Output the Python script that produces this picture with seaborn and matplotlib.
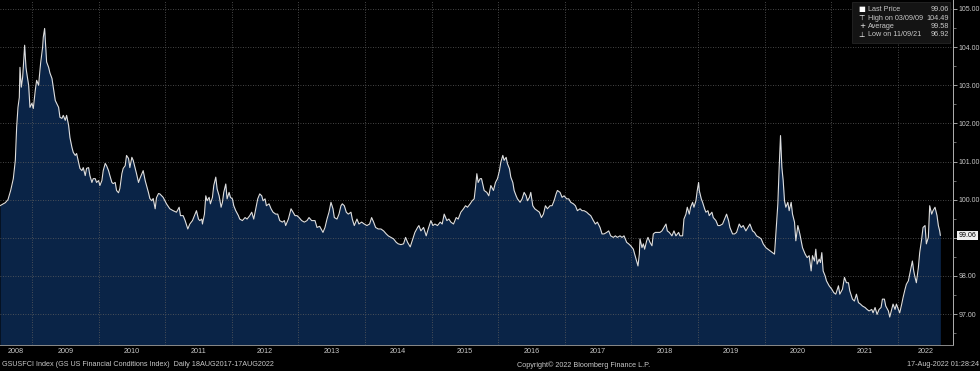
import pandas as pd
import seaborn as sns
from matplotlib import pyplot as plt
from matplotlib import transforms
from matplotlib.patches import Rectangle
from matplotlib.ticker import FixedLocator, MultipleLocator

# GS US Financial Conditions Index, (decimal year, index level)
seg_2008_2010 = [
    (2008.52, 99.84), (2008.60, 99.92), (2008.64, 100.0), (2008.68, 100.24), (2008.72, 100.55),
    (2008.75, 101.03), (2008.77, 101.9), (2008.79, 102.42), (2008.81, 102.68), (2008.82, 103.47),
    (2008.84, 102.95), (2008.86, 103.21), (2008.87, 103.47), (2008.89, 104.05), (2008.91, 103.47),
    (2008.92, 103.34), (2008.95, 103.0), (2008.97, 102.42), (2009.00, 102.53), (2009.02, 102.39),
    (2009.05, 102.87), (2009.07, 103.13), (2009.10, 103.0), (2009.11, 103.21), (2009.13, 103.58),
    (2009.16, 104.0), (2009.17, 104.26), (2009.19, 104.49), (2009.21, 103.92), (2009.22, 103.61),
    (2009.25, 103.47), (2009.27, 103.32), (2009.30, 103.18), (2009.32, 102.95), (2009.35, 102.6),
    (2009.37, 102.53), (2009.40, 102.42), (2009.42, 102.16), (2009.45, 102.13), (2009.47, 102.21),
    (2009.50, 102.08), (2009.52, 102.21), (2009.55, 101.95), (2009.57, 101.63), (2009.60, 101.37),
    (2009.62, 101.24), (2009.65, 101.16), (2009.67, 101.21), (2009.70, 100.97), (2009.72, 100.82),
    (2009.75, 100.76), (2009.77, 100.84), (2009.80, 100.63), (2009.82, 100.82), (2009.85, 100.84),
    (2009.87, 100.63), (2009.90, 100.45), (2009.92, 100.55), (2009.95, 100.55), (2009.97, 100.45),
    (2010.00, 100.5), (2010.02, 100.37), (2010.05, 100.5), (2010.07, 100.76), (2010.10, 100.95),
    (2010.12, 100.89), (2010.15, 100.76), (2010.17, 100.63), (2010.20, 100.45), (2010.22, 100.42),
    (2010.25, 100.45), (2010.27, 100.24), (2010.30, 100.18), (2010.32, 100.29), (2010.35, 100.68),
    (2010.37, 100.82), (2010.40, 100.89), (2010.42, 101.16), (2010.45, 101.08), (2010.47, 100.84),
    (2010.50, 101.11), (2010.52, 101.03), (2010.55, 100.82), (2010.57, 100.68), (2010.60, 100.45),
    (2010.62, 100.55), (2010.65, 100.68), (2010.67, 100.76), (2010.70, 100.5), (2010.72, 100.37),
    (2010.75, 100.18), (2010.77, 100.03), (2010.80, 99.97), (2010.82, 100.03), (2010.85, 99.76),
    (2010.87, 100.05), (2010.90, 100.16), (2010.92, 100.15),
]
seg_2011_2013 = [
    (2010.97, 100.06), (2011.02, 99.89), (2011.07, 99.76), (2011.12, 99.71), (2011.17, 99.67),
    (2011.21, 99.8), (2011.23, 99.58), (2011.27, 99.58), (2011.30, 99.45), (2011.34, 99.23),
    (2011.37, 99.36), (2011.41, 99.45), (2011.45, 99.62), (2011.47, 99.71), (2011.50, 99.49),
    (2011.52, 99.45), (2011.55, 99.49), (2011.56, 99.36), (2011.59, 99.62), (2011.61, 100.1),
    (2011.63, 99.97), (2011.66, 100.06), (2011.68, 99.89), (2011.71, 100.06), (2011.73, 100.37),
    (2011.76, 100.59), (2011.78, 100.28), (2011.81, 100.1), (2011.84, 99.8), (2011.86, 99.93),
    (2011.88, 100.19), (2011.91, 100.41), (2011.93, 100.02), (2011.96, 100.19), (2011.98, 100.06),
    (2012.01, 100.02), (2012.03, 99.84), (2012.06, 99.71), (2012.10, 99.58), (2012.12, 99.49),
    (2012.16, 99.45), (2012.20, 99.53), (2012.23, 99.49), (2012.27, 99.58), (2012.30, 99.67),
    (2012.33, 99.49), (2012.36, 99.76), (2012.39, 100.02), (2012.42, 100.15), (2012.45, 100.1),
    (2012.47, 99.97), (2012.50, 100.02), (2012.52, 99.84), (2012.56, 99.89), (2012.59, 99.76),
    (2012.62, 99.67), (2012.66, 99.62), (2012.69, 99.62), (2012.72, 99.45), (2012.76, 99.41),
    (2012.79, 99.45), (2012.81, 99.32), (2012.85, 99.49), (2012.89, 99.76), (2012.92, 99.67),
    (2012.95, 99.58), (2012.98, 99.58), (2013.01, 99.53), (2013.05, 99.45), (2013.09, 99.41),
    (2013.13, 99.45), (2013.16, 99.53), (2013.20, 99.45), (2013.25, 99.45), (2013.28, 99.27),
    (2013.32, 99.3),
]
seg_2013_2015 = [
    (2013.37, 99.14), (2013.40, 99.27), (2013.43, 99.49), (2013.46, 99.67), (2013.49, 99.93),
    (2013.52, 99.76), (2013.54, 99.53), (2013.58, 99.49), (2013.61, 99.62), (2013.64, 99.84),
    (2013.66, 99.89), (2013.69, 99.84), (2013.72, 99.67), (2013.75, 99.62), (2013.79, 99.67),
    (2013.81, 99.49), (2013.84, 99.32), (2013.88, 99.49), (2013.91, 99.36), (2013.95, 99.41),
    (2013.99, 99.36), (2014.03, 99.32), (2014.07, 99.36), (2014.10, 99.53), (2014.13, 99.41),
    (2014.16, 99.27), (2014.20, 99.23), (2014.24, 99.23), (2014.28, 99.18), (2014.32, 99.1),
    (2014.35, 99.05), (2014.39, 99.01), (2014.43, 98.97), (2014.47, 98.88), (2014.50, 98.84),
    (2014.54, 98.82), (2014.58, 98.84), (2014.61, 99.01), (2014.64, 98.88), (2014.68, 98.76),
    (2014.71, 98.92), (2014.75, 99.14), (2014.79, 99.27), (2014.81, 99.32), (2014.84, 99.18),
    (2014.88, 99.27), (2014.92, 99.05), (2014.95, 99.23), (2014.99, 99.45), (2015.02, 99.32),
    (2015.05, 99.36), (2015.09, 99.32), (2015.13, 99.41), (2015.16, 99.36), (2015.19, 99.62),
    (2015.23, 99.45), (2015.26, 99.49), (2015.29, 99.41), (2015.33, 99.36), (2015.37, 99.53),
    (2015.40, 99.49), (2015.44, 99.67), (2015.48, 99.76), (2015.51, 99.84), (2015.54, 99.8),
    (2015.58, 99.89), (2015.61, 99.97), (2015.64, 100.02), (2015.66, 100.32), (2015.68, 100.68),
    (2015.70, 100.45), (2015.73, 100.55),
]
seg_2015_2018 = [
    (2015.75, 100.55), (2015.79, 100.24), (2015.83, 100.19), (2015.86, 100.1), (2015.89, 100.37),
    (2015.93, 100.24), (2015.96, 100.45), (2015.99, 100.55), (2016.02, 100.76), (2016.04, 100.98),
    (2016.07, 101.16), (2016.09, 101.03), (2016.12, 101.11), (2016.14, 100.94), (2016.17, 100.81),
    (2016.19, 100.59), (2016.22, 100.45), (2016.24, 100.24), (2016.27, 100.1), (2016.29, 100.02),
    (2016.33, 99.93), (2016.36, 100.02), (2016.39, 100.19), (2016.42, 100.1), (2016.44, 99.97),
    (2016.47, 100.06), (2016.49, 100.19), (2016.52, 99.84), (2016.55, 99.76), (2016.59, 99.71),
    (2016.62, 99.67), (2016.65, 99.53), (2016.68, 99.62), (2016.71, 99.84), (2016.74, 99.76),
    (2016.78, 99.84), (2016.81, 99.84), (2016.84, 99.97), (2016.87, 100.15), (2016.89, 100.24),
    (2016.93, 100.19), (2016.96, 100.06), (2016.99, 100.1), (2017.03, 100.02), (2017.06, 100.02),
    (2017.09, 99.93), (2017.13, 99.89), (2017.16, 99.84), (2017.19, 99.71), (2017.23, 99.76),
    (2017.26, 99.71), (2017.29, 99.71), (2017.33, 99.67), (2017.36, 99.62), (2017.39, 99.58),
    (2017.43, 99.45), (2017.46, 99.36), (2017.49, 99.41), (2017.53, 99.27), (2017.56, 99.1),
    (2017.59, 99.1), (2017.63, 99.14), (2017.66, 99.18), (2017.69, 99.05), (2017.73, 99.01),
    (2017.76, 99.05), (2017.79, 99.01), (2017.83, 99.05), (2017.86, 99.01), (2017.89, 99.05),
    (2017.93, 98.88), (2017.96, 98.84), (2017.99, 98.79), (2018.03, 98.7), (2018.05, 98.57),
    (2018.08, 98.39), (2018.10, 98.26), (2018.12, 98.57), (2018.13, 98.97),
]
seg_2018_2020 = [
    (2018.16, 98.74), (2018.18, 98.84), (2018.20, 98.7), (2018.23, 98.92), (2018.25, 99.01),
    (2018.28, 98.88), (2018.31, 98.79), (2018.33, 99.1), (2018.36, 99.14), (2018.39, 99.14),
    (2018.43, 99.14), (2018.46, 99.18), (2018.49, 99.27), (2018.52, 99.36), (2018.54, 99.18),
    (2018.57, 99.14), (2018.61, 99.05), (2018.64, 99.18), (2018.67, 99.05), (2018.71, 99.14),
    (2018.73, 99.05), (2018.77, 99.05), (2018.79, 99.49), (2018.82, 99.62), (2018.84, 99.8),
    (2018.87, 99.62), (2018.89, 99.8), (2018.92, 99.93), (2018.94, 99.8), (2018.97, 99.97),
    (2018.99, 100.24), (2019.01, 100.45), (2019.02, 100.24), (2019.05, 100.02), (2019.07, 99.93),
    (2019.10, 99.76), (2019.12, 99.67), (2019.15, 99.71), (2019.17, 99.58), (2019.21, 99.67),
    (2019.23, 99.53), (2019.27, 99.45), (2019.30, 99.32), (2019.33, 99.32), (2019.37, 99.36),
    (2019.40, 99.49), (2019.43, 99.62), (2019.46, 99.45), (2019.48, 99.27), (2019.52, 99.1),
    (2019.55, 99.1), (2019.58, 99.14), (2019.62, 99.36), (2019.65, 99.27), (2019.68, 99.32),
    (2019.72, 99.18), (2019.75, 99.27), (2019.78, 99.36), (2019.82, 99.18), (2019.85, 99.14),
    (2019.88, 99.05), (2019.92, 99.01), (2019.95, 98.97), (2019.98, 98.84), (2020.02, 98.74),
    (2020.05, 98.7), (2020.08, 98.66), (2020.12, 98.61), (2020.15, 98.57), (2020.17, 99.1),
    (2020.20, 99.89), (2020.22, 100.85), (2020.24, 101.68), (2020.26, 100.85), (2020.28, 100.5),
    (2020.30, 99.97), (2020.32, 99.8), (2020.35, 99.93), (2020.37, 99.71), (2020.40, 99.93),
    (2020.42, 99.62), (2020.45, 99.41), (2020.47, 98.92), (2020.50, 99.32), (2020.53, 99.1),
]
seg_2020_2022 = [
    (2020.57, 98.74), (2020.61, 98.57), (2020.64, 98.48), (2020.67, 98.53), (2020.70, 98.13),
    (2020.72, 98.53), (2020.75, 98.39), (2020.77, 98.7), (2020.79, 98.31), (2020.82, 98.44),
    (2020.84, 98.35), (2020.86, 98.61), (2020.88, 98.13), (2020.91, 98.0), (2020.93, 97.87),
    (2020.97, 97.74), (2021.01, 97.65), (2021.04, 97.56), (2021.07, 97.52), (2021.11, 97.74),
    (2021.13, 97.52), (2021.17, 97.65), (2021.20, 97.96), (2021.23, 97.82), (2021.26, 97.82),
    (2021.28, 97.61), (2021.32, 97.39), (2021.35, 97.34), (2021.38, 97.52), (2021.41, 97.3),
    (2021.44, 97.26), (2021.47, 97.21), (2021.51, 97.17), (2021.54, 97.12), (2021.57, 97.08),
    (2021.61, 97.12), (2021.63, 97.03), (2021.66, 97.17), (2021.69, 96.99), (2021.72, 97.12),
    (2021.75, 97.17), (2021.77, 97.39), (2021.80, 97.39), (2021.82, 97.21), (2021.86, 97.08),
    (2021.88, 96.92), (2021.91, 97.12), (2021.93, 97.26), (2021.96, 97.12), (2021.98, 97.26),
    (2022.01, 97.12), (2022.03, 97.03), (2022.06, 97.26), (2022.08, 97.43), (2022.11, 97.65),
    (2022.13, 97.78), (2022.16, 97.87), (2022.18, 98.04), (2022.20, 98.22), (2022.22, 98.39),
    (2022.24, 98.13), (2022.26, 97.96), (2022.28, 97.82), (2022.31, 98.22), (2022.33, 98.61),
    (2022.36, 98.97), (2022.38, 99.27), (2022.41, 99.32), (2022.43, 98.84), (2022.46, 99.01),
    (2022.48, 99.84), (2022.51, 99.62), (2022.53, 99.71), (2022.56, 99.8), (2022.59, 99.58),
    (2022.61, 99.32), (2022.63, 99.18), (2022.64, 99.06),
]

year_names = [str(y) for y in range(2008, 2023)]
y_ticks = [97, 98, 99, 100, 101, 102, 103, 104, 105]
last_price = 99.06
legend_rows = [
    ("\u25a0", "Last Price", "99.06"),
    ("\u22a4", "High on 03/09/09", "104.49"),
    ("+", "Average", "99.58"),
    ("\u22a5", "Low on 11/09/21", "96.92"),
]
footer_left = "GSUSFCI Index (GS US Financial Conditions Index)  Daily 18AUG2017-17AUG2022"
footer_mid = "Copyright\u00a9 2022 Bloomberg Finance L.P."
footer_right = "17-Aug-2022 01:28:24"

segments = [seg_2008_2010, seg_2011_2013, seg_2013_2015, seg_2015_2018, seg_2018_2020, seg_2020_2022]
df = pd.DataFrame([p for s in segments for p in s], columns=["year", "fci"])

sns.set_theme(style="dark")
plt.rcParams["font.family"] = ["Liberation Sans", "DejaVu Sans"]
txt = "#c8c8c8"
fs = 5.2

fig = plt.figure(figsize=(9.8, 3.71), dpi=100, facecolor="black")
ax = fig.add_axes([0, 26 / 371, 953 / 980, 345 / 371])
ax.set_facecolor("black")

x0, x1 = 2008.52, 2022.83
y0, y1 = 96.187, 105.236
ax.set_xlim(x0, x1)
ax.set_ylim(y0, y1)

ax.fill_between(df["year"], df["fci"], y0, color="#0a2447", lw=0, zorder=1)
sns.lineplot(data=df, x="year", y="fci", color="#dedede", lw=0.8, ax=ax, zorder=3)
ax.set_xlabel("")
ax.set_ylabel("")

# grid: dotted horizontals at each integer, dotted verticals at year boundaries
ax.set_axisbelow(False)
ax.grid(True, which="major", color="#5e5e5e", ls=(0, (1, 2)), lw=0.6)

# x axis: long separators at year starts, quarter ticks inside, year names centred
ax.xaxis.set_major_locator(FixedLocator(list(range(2009, 2023))))
ax.xaxis.set_minor_locator(MultipleLocator(0.25))
ax.tick_params(axis="x", which="major", direction="out", length=11, width=0.6,
               color="#6a6a6a", labelbottom=False)
ax.tick_params(axis="x", which="minor", direction="in", length=2.5, width=0.6, color="#8a8a8a")

mids = [(x0 + 2009) / 2] + [y + 0.5 for y in range(2009, 2022)] + [(2022 + x1) / 2]
sec = ax.secondary_xaxis("bottom")
sec.set_xticks(mids, year_names)
sec.tick_params(length=0, pad=2.5, labelsize=fs, labelcolor=txt)
sec.spines["bottom"].set_visible(False)

# right y axis
ax.yaxis.tick_right()
ax.set_yticks(y_ticks, ["" if v == 99 else f"{v:.2f}" for v in y_ticks])
ax.yaxis.set_minor_locator(MultipleLocator(0.5))
ax.tick_params(axis="y", which="major", direction="out", length=3, width=0.6,
               color="#bbbbbb", labelsize=5.0, labelcolor=txt, pad=1.2)
ax.tick_params(axis="y", which="minor", direction="out", length=1.8, width=0.5, color="#999999")

for side in ["left", "top"]:
    ax.spines[side].set_visible(False)
ax.spines["right"].set_color("#b0b0b0")
ax.spines["right"].set_linewidth(0.7)
ax.spines["bottom"].set_color("#8a8a8a")
ax.spines["bottom"].set_linewidth(0.7)

# last price tag on the axis
trans = transforms.blended_transform_factory(ax.transAxes, ax.transData)
ax.text(1.006, last_price, f"{last_price:.2f}", transform=trans, fontsize=5.0,
        color="black", va="center", ha="left", clip_on=False,
        bbox=dict(boxstyle="square,pad=0.2", fc="#f0f0f0", ec="none"))

# legend panel (top right)
fig.patches.append(Rectangle((852 / 980, 1 - 43 / 371), 98 / 980, 41 / 371,
                             transform=fig.transFigure, fc="#141414", ec="#2a2a2a", lw=0.5))
for i, (sym, name, val) in enumerate(legend_rows):
    yy = 1 - (9.5 + 8.5 * i) / 371
    fig.text(862 / 980, yy, sym, color="white", fontsize=fs, ha="center", va="center",
             family=["DejaVu Sans"])
    fig.text(868 / 980, yy, name, color=txt, fontsize=fs, ha="left", va="center")
    fig.text(949 / 980, yy, val, color=txt, fontsize=fs, ha="right", va="center")

# footer
fig.text(2 / 980, 6 / 371, footer_left, color=txt, fontsize=fs, ha="left", va="center")
fig.text(517 / 980, 6 / 371, footer_mid, color=txt, fontsize=fs, ha="left", va="center")
fig.text(979 / 980, 6 / 371, footer_right, color=txt, fontsize=fs, ha="right", va="center")

fig.savefig("out.png", dpi=100, facecolor="black")
